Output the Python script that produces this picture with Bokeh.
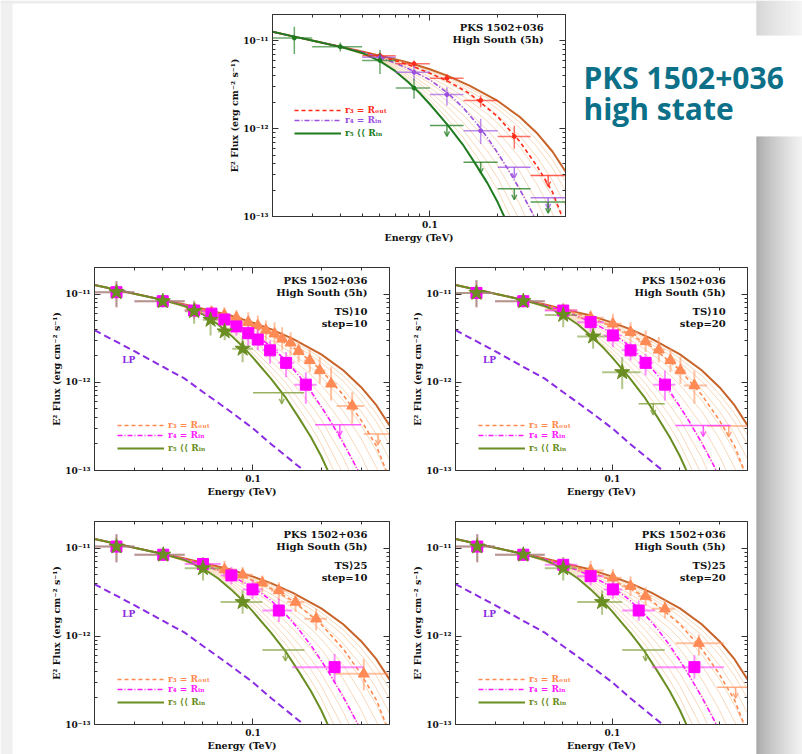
from bokeh.plotting import figure
from bokeh.models import (Range1d, LogAxis, FixedTicker, Label, Legend, LegendItem,
                          ColumnDataSource, Arrow, OpenHead)
from bokeh.embed import file_html
from bokeh.resources import INLINE

# ---------------------------------------------------------------- axes / ticks
E_MIN, E_MAX = 0.02, 0.4
F_MIN, F_MAX = 1e-13, 2e-11
x_major = [0.1]
x_major_labels = ["0.1"]
x_minor = [0.03, 0.04, 0.05, 0.06, 0.07, 0.08, 0.09, 0.2, 0.3]
y_major = [1e-13, 1e-12, 1e-11]
y_major_labels = ["10⁻¹³", "10⁻¹²", "10⁻¹¹"]
y_minor = [2e-13, 3e-13, 4e-13, 5e-13, 6e-13, 7e-13, 8e-13, 9e-13,
           2e-12, 3e-12, 4e-12, 5e-12, 6e-12, 7e-12, 8e-12, 9e-12]

# ---------------------------------------------------------------- model curves
brown_E = [0.02, 0.025, 0.03, 0.04, 0.05, 0.06, 0.07, 0.08, 0.1, 0.12, 0.15, 0.2, 0.25, 0.3, 0.35, 0.4]
brown_F = [1.27e-11, 1.12e-11, 1.01e-11, 8.6e-12, 7.6e-12, 6.8e-12, 6.2e-12, 5.7e-12, 4.75e-12,
           4.0e-12, 3.1e-12, 2.07e-12, 1.37e-12, 8.8e-13, 5.5e-13, 3.25e-13]
rout_E = [0.02, 0.025, 0.03, 0.04, 0.05, 0.06, 0.07, 0.08, 0.1, 0.12, 0.15, 0.2, 0.25, 0.3, 0.35, 0.4]
rout_F = [1.27e-11, 1.12e-11, 1.01e-11, 8.6e-12, 7.5e-12, 6.65e-12, 5.97e-12, 5.37e-12, 4.29e-12,
          3.48e-12, 2.52e-12, 1.37e-12, 7.2e-13, 3.7e-13, 1.9e-13, 8e-14]
rin_E = [0.02, 0.025, 0.03, 0.04, 0.05, 0.06, 0.07, 0.08, 0.1, 0.12, 0.14, 0.16, 0.18, 0.2,
         0.22, 0.25, 0.28, 0.3, 0.32]
rin_F = [1.27e-11, 1.12e-11, 1.01e-11, 8.6e-12, 7.45e-12, 6.45e-12, 5.6e-12, 4.85e-12, 3.6e-12,
         2.55e-12, 1.75e-12, 1.18e-12, 7.9e-13, 5.3e-13, 3.6e-13, 2.05e-13, 1.2e-13, 8.5e-14, 6e-14]
r5_E = [0.02, 0.025, 0.03, 0.04, 0.05, 0.06, 0.07, 0.08, 0.09, 0.1, 0.12, 0.14, 0.16, 0.18, 0.2, 0.22]
r5_F = [1.27e-11, 1.12e-11, 1.01e-11, 8.55e-12, 7.3e-12, 5.9e-12, 4.55e-12, 3.4e-12, 2.55e-12,
        1.9e-12, 1.1e-12, 6.6e-13, 3.9e-13, 2.4e-13, 1.45e-13, 8.5e-14]
lp_E = [0.02, 0.03, 0.04, 0.05, 0.06, 0.07, 0.08, 0.1, 0.12, 0.14, 0.17]
lp_F = [3.9e-12, 2.25e-12, 1.5e-12, 1.1e-12, 7.8e-13, 5.9e-13, 4.6e-13, 3.0e-13, 2.0e-13, 1.45e-13, 9.7e-14]
fan_E = [0.04, 0.06, 0.08, 0.1, 0.12, 0.14, 0.16, 0.18, 0.2, 0.25, 0.3, 0.35, 0.4]
fan_logF = [
    [-11.066, -11.170, -11.253, -11.339, -11.420, -11.500, -11.580, -11.651, -11.730, -11.925, -12.134, -12.354, -12.598],
    [-11.066, -11.173, -11.262, -11.355, -11.443, -11.529, -11.614, -11.692, -11.776, -11.987, -12.212, -12.448, -12.708],
    [-11.066, -11.177, -11.276, -11.379, -11.477, -11.571, -11.666, -11.752, -11.846, -12.080, -12.329, -12.589, -12.873],
    [-11.067, -11.182, -11.294, -11.411, -11.521, -11.628, -11.735, -11.833, -11.938, -12.204, -12.485, -12.777, -13.093],
    [-11.067, -11.187, -11.312, -11.442, -11.566, -11.684, -11.804, -11.914, -12.031, -12.328, -12.641, -12.965, -13.313],
    [-11.067, -11.193, -11.334, -11.482, -11.622, -11.755, -11.891, -12.015, -12.146, -12.483, -12.836, -13.200, -13.588],
    [-11.067, -11.200, -11.361, -11.530, -11.690, -11.840, -11.994, -12.136, -12.285, -12.669, -13.070, -13.482],
    [-11.068, -11.207, -11.388, -11.578, -11.757, -11.925, -12.098, -12.257, -12.423, -12.855, -13.304],
    [-11.068, -11.215, -11.415, -11.626, -11.824, -12.010, -12.202, -12.378, -12.562, -13.041],
    [-11.068, -11.222, -11.442, -11.673, -11.892, -12.095, -12.305, -12.499, -12.700, -13.227],
]

# ---------------------------------------------------------------- top panel data
top_g_E = [0.025, 0.040, 0.060, 0.085]
top_g_F = [1.08e-11, 8.6e-12, 5.98e-12, 2.9e-12]
top_g_Elo = [0.020, 0.030, 0.050, 0.0705]
top_g_Ehi = [0.030, 0.050, 0.0705, 0.100]
top_g_Flo = [7.1e-12, 7.6e-12, 4.2e-12, 2.2e-12]
top_g_Fhi = [1.45e-11, 9.6e-12, 7.9e-12, 3.7e-12]
top_g_ul_E = [0.119, 0.168, 0.237, 0.335]
top_g_ul_Elo = [0.100, 0.141, 0.200, 0.280]
top_g_ul_Ehi = [0.141, 0.200, 0.280, 0.400]
top_g_ul_F = [1.09e-12, 4.15e-13, 2.07e-13, 1.46e-13]

top_p_E = [0.060, 0.085, 0.119, 0.168]
top_p_F = [6.5e-12, 4.4e-12, 2.45e-12, 9.5e-13]
top_p_Elo = [0.050, 0.0705, 0.100, 0.141]
top_p_Ehi = [0.0705, 0.100, 0.141, 0.200]
top_p_Flo = [5.9e-12, 3.54e-12, 1.84e-12, 6.7e-13]
top_p_Fhi = [7.2e-12, 5.25e-12, 2.97e-12, 1.3e-12]
top_p_ul_E = [0.237, 0.335]
top_p_ul_Elo = [0.200, 0.280]
top_p_ul_Ehi = [0.280, 0.400]
top_p_ul_F = [3.65e-13, 1.63e-13]

top_r_E = [0.060, 0.085, 0.119, 0.168, 0.237]
top_r_F = [6.8e-12, 5.5e-12, 3.76e-12, 2.1e-12, 8.15e-13]
top_r_Elo = [0.050, 0.0705, 0.100, 0.141, 0.200]
top_r_Ehi = [0.0705, 0.100, 0.141, 0.200, 0.280]
top_r_Flo = [6.2e-12, 4.94e-12, 3.39e-12, 1.76e-12, 5.9e-13]
top_r_Fhi = [7.4e-12, 5.98e-12, 4.2e-12, 2.39e-12, 1.08e-12]
top_r_ul_E = [0.335]
top_r_ul_Elo = [0.280]
top_r_ul_Ehi = [0.400]
top_r_ul_F = [2.93e-13]

# ---------------------------------------------------------------- TS>10 step=10
ml_star_E = [0.025, 0.040, 0.055, 0.065, 0.075, 0.090]
ml_star_F = [1.05e-11, 8.3e-12, 6.4e-12, 5.1e-12, 3.77e-12, 2.4e-12]
ml_star_Elo = [0.020, 0.030, 0.050, 0.060, 0.070, 0.081]
ml_star_Ehi = [0.030, 0.050, 0.060, 0.070, 0.081, 0.100]
ml_star_Flo = [7.1e-12, 7.1e-12, 4.6e-12, 3.4e-12, 3.0e-12, 1.69e-12]
ml_star_Fhi = [1.4e-11, 9.6e-12, 8.4e-12, 7.1e-12, 4.6e-12, 3.3e-12]
ml_star_ul_E = [0.134]
ml_star_ul_Elo = [0.100]
ml_star_ul_Ehi = [0.168]
ml_star_ul_F = [7.6e-13]

ml_sq_E = [0.025, 0.040, 0.055, 0.0656, 0.0748, 0.0845, 0.0953, 0.105, 0.119, 0.140, 0.171]
ml_sq_F = [1.05e-11, 8.3e-12, 6.5e-12, 6.0e-12, 5.15e-12, 4.3e-12, 3.6e-12, 3.05e-12, 2.3e-12, 1.66e-12, 9.4e-13]
ml_sq_Elo = [0.020, 0.030, 0.050, 0.060, 0.070, 0.080, 0.090, 0.100, 0.110, 0.129, 0.152]
ml_sq_Ehi = [0.030, 0.050, 0.060, 0.070, 0.080, 0.090, 0.100, 0.110, 0.129, 0.152, 0.191]
ml_sq_Flo = [7.1e-12, 7.1e-12, 5.2e-12, 5.0e-12, 4.3e-12, 3.4e-12, 2.6e-12, 2.3e-12, 1.62e-12, 1.14e-12, 5.7e-13]
ml_sq_Fhi = [1.4e-11, 9.6e-12, 8.0e-12, 7.2e-12, 6.2e-12, 5.5e-12, 4.6e-12, 4.04e-12, 2.98e-12, 2.2e-12, 1.3e-12]
ml_sq_ul_E = [0.2415]
ml_sq_ul_Elo = [0.188]
ml_sq_ul_Ehi = [0.300]
ml_sq_ul_F = [3.3e-13]

ml_tri_E = [0.0558, 0.0656, 0.0748, 0.0845, 0.0953, 0.105, 0.114, 0.1245, 0.1345, 0.1465, 0.159,
            0.178, 0.197, 0.221, 0.274]
ml_tri_F = [6.6e-12, 6.2e-12, 5.8e-12, 5.4e-12, 4.8e-12, 4.4e-12, 3.9e-12, 3.55e-12, 3.1e-12, 2.8e-12,
            2.25e-12, 1.77e-12, 1.36e-12, 9.6e-13, 5.4e-13]
ml_tri_Elo = [0.050, 0.0605, 0.070, 0.0795, 0.0897, 0.100, 0.1094, 0.119, 0.1294, 0.1404, 0.1526,
              0.168, 0.187, 0.209, 0.234]
ml_tri_Ehi = [0.0605, 0.070, 0.0795, 0.0897, 0.100, 0.1094, 0.119, 0.1294, 0.1404, 0.1526, 0.168,
              0.187, 0.209, 0.234, 0.308]
ml_tri_Flo = [5.5e-12, 5.2e-12, 4.8e-12, 4.4e-12, 3.7e-12, 3.3e-12, 2.98e-12, 2.6e-12, 2.3e-12, 2.0e-12,
              1.69e-12, 1.3e-12, 9.6e-13, 6.2e-13, 3.4e-13]
ml_tri_Fhi = [7.8e-12, 7.4e-12, 7.1e-12, 6.6e-12, 6.2e-12, 5.7e-12, 5.0e-12, 4.8e-12, 4.2e-12, 3.7e-12,
              2.98e-12, 2.4e-12, 1.93e-12, 1.48e-12, 7.7e-13]
ml_tri_ul_E = [0.356]
ml_tri_ul_Elo = [0.308]
ml_tri_ul_Ehi = [0.400]
ml_tri_ul_F = [2.6e-13]

# ---------------------------------------------------------------- TS>10 step=20
mr_star_E = [0.0248, 0.0401, 0.0604, 0.0821, 0.1106]
mr_star_F = [1.03e-11, 8.3e-12, 5.8e-12, 3.3e-12, 1.3e-12]
mr_star_Elo = [0.020, 0.030, 0.050, 0.0697, 0.090]
mr_star_Ehi = [0.030, 0.050, 0.0697, 0.098, 0.1334]
mr_star_Flo = [7.1e-12, 7.1e-12, 4.2e-12, 2.4e-12, 8.4e-13]
mr_star_Fhi = [1.43e-11, 9.6e-12, 7.8e-12, 4.4e-12, 1.93e-12]
mr_star_ul_E = [0.152]
mr_star_ul_Elo = [0.131]
mr_star_ul_Ehi = [0.171]
mr_star_ul_F = [5.7e-13]

mr_sq_E = [0.0248, 0.0401, 0.0604, 0.080, 0.1005, 0.1205, 0.1406, 0.1715]
mr_sq_F = [1.03e-11, 8.3e-12, 6.5e-12, 4.8e-12, 3.4e-12, 2.3e-12, 1.66e-12, 9.4e-13]
mr_sq_Elo = [0.020, 0.030, 0.050, 0.0697, 0.0916, 0.110, 0.130, 0.152]
mr_sq_Ehi = [0.030, 0.050, 0.0697, 0.0916, 0.110, 0.130, 0.152, 0.191]
mr_sq_Flo = [7.1e-12, 7.1e-12, 5.6e-12, 3.7e-12, 2.5e-12, 1.77e-12, 1.19e-12, 6.2e-13]
mr_sq_Fhi = [1.43e-11, 9.6e-12, 7.5e-12, 5.97e-12, 4.4e-12, 2.85e-12, 2.1e-12, 1.36e-12]
mr_sq_ul_E = [0.254]
mr_sq_ul_Elo = [0.191]
mr_sq_ul_Ehi = [0.336]
mr_sq_ul_F = [3.24e-13]

mr_tri_E = [0.0604, 0.080, 0.1005, 0.1205, 0.1406, 0.161, 0.1815, 0.201, 0.232]
mr_tri_F = [6.6e-12, 5.4e-12, 4.6e-12, 3.7e-12, 2.9e-12, 2.33e-12, 1.77e-12, 1.36e-12, 9.2e-13]
mr_tri_Elo = [0.050, 0.0697, 0.0916, 0.110, 0.130, 0.1505, 0.171, 0.191, 0.208]
mr_tri_Ehi = [0.0697, 0.0916, 0.110, 0.130, 0.1505, 0.171, 0.191, 0.212, 0.2645]
mr_tri_Flo = [5.6e-12, 4.4e-12, 3.7e-12, 2.85e-12, 2.2e-12, 1.69e-12, 1.3e-12, 9.6e-13, 5.7e-13]
mr_tri_Fhi = [7.6e-12, 6.5e-12, 5.97e-12, 4.8e-12, 3.87e-12, 3.25e-12, 2.4e-12, 1.93e-12, 1.36e-12]
mr_tri_ul_E = [0.330]
mr_tri_ul_Elo = [0.2645]
mr_tri_ul_Ehi = [0.400]
mr_tri_ul_F = [3.2e-13]

# ---------------------------------------------------------------- TS>25 step=10
bl_star_E = [0.025, 0.0402, 0.0602, 0.090]
bl_star_F = [1.04e-11, 8.4e-12, 5.9e-12, 2.44e-12]
bl_star_Elo = [0.020, 0.030, 0.050, 0.072]
bl_star_Ehi = [0.030, 0.050, 0.072, 0.110]
bl_star_Flo = [6.9e-12, 7.2e-12, 4.3e-12, 1.8e-12]
bl_star_Fhi = [1.43e-11, 9.6e-12, 7.9e-12, 3.3e-12]
bl_star_ul_E = [0.139]
bl_star_ul_Elo = [0.110]
bl_star_ul_Ehi = [0.1686]
bl_star_ul_F = [7.0e-13]

bl_sq_E = [0.025, 0.0402, 0.0602, 0.0803, 0.0995, 0.130, 0.229]
bl_sq_F = [1.04e-11, 8.4e-12, 6.6e-12, 4.9e-12, 3.4e-12, 1.96e-12, 4.47e-13]
bl_sq_Elo = [0.020, 0.030, 0.050, 0.072, 0.090, 0.110, 0.149]
bl_sq_Ehi = [0.030, 0.050, 0.072, 0.090, 0.110, 0.149, 0.308]
bl_sq_Flo = [6.9e-12, 7.2e-12, 5.6e-12, 3.9e-12, 2.66e-12, 1.45e-12, 3.0e-13]
bl_sq_Fhi = [1.43e-11, 9.6e-12, 7.7e-12, 6.08e-12, 4.3e-12, 2.66e-12, 6.3e-13]

bl_tri_E = [0.0749, 0.090, 0.110, 0.130, 0.154, 0.190, 0.308]
bl_tri_F = [5.7e-12, 4.98e-12, 4.04e-12, 3.3e-12, 2.44e-12, 1.58e-12, 3.75e-13]
bl_tri_Elo = [0.067, 0.082, 0.100, 0.120, 0.141, 0.1686, 0.229]
bl_tri_Ehi = [0.085, 0.100, 0.120, 0.141, 0.1686, 0.212, 0.400]
bl_tri_Flo = [4.5e-12, 3.9e-12, 3.16e-12, 2.55e-12, 1.88e-12, 1.16e-12, 2.43e-13]
bl_tri_Fhi = [7.2e-12, 6.08e-12, 4.9e-12, 4.1e-12, 3.0e-12, 2.05e-12, 5.5e-13]

# ---------------------------------------------------------------- TS>25 step=20
br_star_E = [0.025, 0.0401, 0.0604, 0.090]
br_star_F = [1.04e-11, 8.4e-12, 5.9e-12, 2.44e-12]
br_star_Elo = [0.020, 0.030, 0.050, 0.0697]
br_star_Ehi = [0.030, 0.050, 0.0697, 0.1106]
br_star_Flo = [6.9e-12, 7.2e-12, 4.3e-12, 1.75e-12]
br_star_Fhi = [1.43e-11, 9.6e-12, 7.9e-12, 3.3e-12]
br_star_ul_E = [0.1405]
br_star_ul_Elo = [0.1106]
br_star_ul_Ehi = [0.171]
br_star_ul_F = [7.0e-13]

br_sq_E = [0.025, 0.0401, 0.0604, 0.080, 0.1005, 0.131, 0.232]
br_sq_F = [1.04e-11, 8.4e-12, 6.46e-12, 4.8e-12, 3.4e-12, 1.96e-12, 4.47e-13]
br_sq_Elo = [0.020, 0.030, 0.050, 0.0697, 0.0916, 0.1106, 0.150]
br_sq_Ehi = [0.030, 0.050, 0.0697, 0.0916, 0.1106, 0.155, 0.314]
br_sq_Flo = [6.9e-12, 7.2e-12, 5.5e-12, 3.8e-12, 2.66e-12, 1.5e-12, 3.3e-13]
br_sq_Fhi = [1.43e-11, 9.6e-12, 7.6e-12, 6.0e-12, 4.3e-12, 2.55e-12, 6.1e-13]

br_tri_E = [0.080, 0.1005, 0.1205, 0.1406, 0.1715, 0.2428]
br_tri_F = [5.57e-12, 4.6e-12, 3.7e-12, 2.85e-12, 2.05e-12, 8.36e-13]
br_tri_Elo = [0.0697, 0.0916, 0.110, 0.130, 0.150, 0.191]
br_tri_Ehi = [0.0916, 0.110, 0.130, 0.150, 0.190, 0.314]
br_tri_Flo = [4.2e-12, 3.6e-12, 2.85e-12, 2.2e-12, 1.6e-12, 6.0e-13]
br_tri_Fhi = [7.2e-12, 5.8e-12, 4.8e-12, 3.6e-12, 2.6e-12, 1.05e-12]
br_tri_ul_E = [0.354]
br_tri_ul_Elo = [0.293]
br_tri_ul_Ehi = [0.400]
br_tri_ul_F = [2.65e-13]

# ---------------------------------------------------------------- texts
panel_title = ["PKS 1502+036", "High South (5h)"]
ml_sel = ["TS⟩10", "step=10"]
mr_sel = ["TS⟩10", "step=20"]
bl_sel = ["TS⟩25", "step=10"]
br_sel = ["TS⟩25", "step=20"]
leg_labels = ["r₃ = Rₒᵤₜ", "r₄ = Rᵢₙ", "r₅ ⟨⟨ Rᵢₙ"]
slide_title = ["PKS 1502+036", "high state"]

# ---------------------------------------------------------------- styling
FONT = "DejaVu Serif"
BL, BR, BT, BB = 70, 12, 10, 30
TXT_E = 0.32
TXT_F = [1.41e-11, 1.04e-11, 6.3e-12, 4.67e-12]
UL_DROP = 0.75

TOP_COL = {"r3": "#ff2a1a", "r4": "#9b4fe0", "r5": "#1e7b1e"}
LOW_COL = {"r3": "#ff8a50", "r4": "#ff1aff", "r5": "#6b8e23"}
BROWN = "#c8642a"
FAN = "#f3c99e"
LP_COL = "#8a2be2"


def style_axis(ax, show_labels=True):
    ax.major_tick_in = 6
    ax.major_tick_out = 0
    ax.minor_tick_in = 3
    ax.minor_tick_out = 0
    ax.axis_line_color = "#333333"
    ax.major_tick_line_color = "#333333"
    ax.minor_tick_line_color = "#333333"
    ax.major_label_text_font = FONT
    ax.major_label_text_font_style = "bold"
    ax.major_label_text_color = "#111111"
    if show_labels:
        ax.major_label_text_font_size = "9px"
    else:
        ax.major_label_text_font_size = "1px"
        ax.major_label_text_alpha = 0
        ax.major_label_standoff = 0
    ax.axis_label_text_font = FONT
    ax.axis_label_text_font_style = "bold"
    ax.axis_label_text_font_size = "9.5px"
    ax.axis_label_text_color = "#111111"


def make_panel(L, T, W, H):
    p = figure(frame_width=W, frame_height=H, x_axis_type="log", y_axis_type="log",
               x_range=Range1d(E_MIN, E_MAX), y_range=Range1d(F_MIN, F_MAX),
               output_backend="svg", toolbar_location=None,
               min_border_left=BL, min_border_right=BR, min_border_top=BT, min_border_bottom=BB)
    p.styles = {"position": "absolute", "left": f"{L - BL}px", "top": f"{T - BT}px"}
    p.border_fill_color = None
    p.background_fill_color = "white"
    p.outline_line_color = "#333333"
    p.xgrid.visible = False
    p.ygrid.visible = False
    xt = FixedTicker(ticks=x_major, minor_ticks=x_minor)
    yt = FixedTicker(ticks=y_major, minor_ticks=y_minor)
    xa, ya = p.xaxis[0], p.yaxis[0]
    style_axis(xa)
    style_axis(ya)
    xa.ticker = xt
    ya.ticker = yt
    xa.major_label_overrides = dict(zip(x_major, x_major_labels))
    ya.major_label_overrides = dict(zip(y_major, y_major_labels))
    xa.axis_label = "Energy (TeV)"
    ya.axis_label = "E² Flux (erg cm⁻² s⁻¹)"
    xa.major_label_standoff = 4
    xa.axis_label_standoff = 1
    ya.major_label_standoff = 4
    ya.axis_label_standoff = 0
    top = LogAxis(ticker=xt)
    style_axis(top, False)
    right = LogAxis(ticker=yt)
    style_axis(right, False)
    p.add_layout(top, "above")
    p.add_layout(right, "right")
    return p


def draw_models(p, cols, with_lp):
    for row in fan_logF:
        p.line(fan_E[:len(row)], [10 ** v for v in row], line_color=FAN, line_width=1, line_alpha=0.7)
    p.line(brown_E, brown_F, line_color=BROWN, line_width=2)
    r3 = p.line(rout_E, rout_F, line_color=cols["r3"], line_width=1.6, line_dash="4 3")
    r4 = p.line(rin_E, rin_F, line_color=cols["r4"], line_width=1.6, line_dash="5 2 1 2")
    r5 = p.line(r5_E, r5_F, line_color=cols["r5"], line_width=2)
    if with_lp:
        p.line(lp_E, lp_F, line_color=LP_COL, line_width=2, line_dash="7 4")
    return [r3, r4, r5]


def add_legends(p, rends, cols, x, ys):
    for r, lab, key, y in zip(rends, leg_labels, ["r3", "r4", "r5"], ys):
        leg = Legend(items=[LegendItem(label=lab, renderers=[r])], location=(x, y),
                     background_fill_alpha=0, border_line_alpha=0, padding=1, margin=0,
                     spacing=0, glyph_width=47, glyph_height=10, label_height=10,
                     label_standoff=4, label_text_font=FONT, label_text_font_style="bold",
                     label_text_font_size="9px", label_text_color=cols[key])
        p.add_layout(leg)


def errs(p, E, F, Elo, Ehi, Flo, Fhi, color, alpha, width):
    src = ColumnDataSource(dict(E=E, F=F, Elo=Elo, Ehi=Ehi, Flo=Flo, Fhi=Fhi))
    p.segment("Elo", "F", "Ehi", "F", source=src, line_color=color, line_alpha=alpha, line_width=width)
    p.segment("E", "Flo", "E", "Fhi", source=src, line_color=color, line_alpha=alpha, line_width=width)
    return src


def uls(p, E, Elo, Ehi, F, color, alpha, width):
    src = ColumnDataSource(dict(E=E, Elo=Elo, Ehi=Ehi, F=F, F2=[f * UL_DROP for f in F]))
    p.segment("Elo", "F", "Ehi", "F", source=src, line_color=color, line_alpha=alpha, line_width=width)
    p.add_layout(Arrow(end=OpenHead(size=5, line_color=color, line_alpha=alpha, line_width=1.5),
                       x_start="E", y_start="F", x_end="E", y_end="F2", source=src,
                       line_color=color, line_alpha=alpha, line_width=1.5))


def add_texts(p, lines):
    for t, y in zip(lines, TXT_F):
        p.add_layout(Label(x=TXT_E, y=y, text=t, text_align="right", text_baseline="middle",
                           text_font=FONT, text_font_style="bold", text_font_size="10px",
                           text_color="#111111"))


# ---------------------------------------------------------------- top panel
pt = make_panel(272, 14, 293, 202)
rends = draw_models(pt, TOP_COL, False)
for (E, F, Elo, Ehi, Flo, Fhi, c) in [
        (top_r_E, top_r_F, top_r_Elo, top_r_Ehi, top_r_Flo, top_r_Fhi, TOP_COL["r3"]),
        (top_p_E, top_p_F, top_p_Elo, top_p_Ehi, top_p_Flo, top_p_Fhi, TOP_COL["r4"]),
        (top_g_E, top_g_F, top_g_Elo, top_g_Ehi, top_g_Flo, top_g_Fhi, TOP_COL["r5"])]:
    s = errs(pt, E, F, Elo, Ehi, Flo, Fhi, c, 0.65, 1.5)
    pt.scatter("E", "F", source=s, marker="circle", size=4, fill_color=c, line_color=c)
uls(pt, top_r_ul_E, top_r_ul_Elo, top_r_ul_Ehi, top_r_ul_F, TOP_COL["r3"], 0.75, 1.5)
uls(pt, top_p_ul_E, top_p_ul_Elo, top_p_ul_Ehi, top_p_ul_F, TOP_COL["r4"], 0.75, 1.5)
uls(pt, top_g_ul_E, top_g_ul_Elo, top_g_ul_Ehi, top_g_ul_F, TOP_COL["r5"], 0.75, 1.5)
add_legends(pt, rends, TOP_COL, 21, [100, 90, 77])
add_texts(pt, panel_title)


# ---------------------------------------------------------------- lower panels
def lower_panel(L, T, W, H, star, sq, tri, star_ul, sq_ul, tri_ul, sel):
    p = make_panel(L, T, W, H)
    rends = draw_models(p, LOW_COL, True)
    p.add_layout(Label(x=0.0265, y=1.8e-12, text="LP", text_align="left", text_baseline="middle",
                       text_font=FONT, text_font_style="bold", text_font_size="9px",
                       text_color=LP_COL))
    s_tri = errs(p, *tri, "#ff9a66", 0.6, 2)
    s_sq = errs(p, *sq, "#ff33ff", 0.55, 2)
    s_star = errs(p, *star, "#7f9f3a", 0.6, 2)
    if tri_ul:
        uls(p, *tri_ul, "#ff9a66", 0.8, 1.5)
    if sq_ul:
        uls(p, *sq_ul, "#ff33ff", 0.8, 1.5)
    if star_ul:
        uls(p, *star_ul, "#7f9f3a", 0.8, 1.5)
    p.scatter("E", "F", source=s_tri, marker="triangle", size=11, fill_color="#ff8a55",
              line_color="#ff8a55")
    p.scatter("E", "F", source=s_sq, marker="square", size=11, fill_color="#ff00ff",
              line_color="#ff00ff")
    p.scatter("E", "F", source=s_star, marker="star", size=16, fill_color="#6b8e23",
              line_color="#6b8e23")
    add_legends(p, rends, LOW_COL, 22, [39, 29, 16])
    add_texts(p, panel_title + sel)
    return p


pml = lower_panel(94, 267, 295, 203,
                  (ml_star_E, ml_star_F, ml_star_Elo, ml_star_Ehi, ml_star_Flo, ml_star_Fhi),
                  (ml_sq_E, ml_sq_F, ml_sq_Elo, ml_sq_Ehi, ml_sq_Flo, ml_sq_Fhi),
                  (ml_tri_E, ml_tri_F, ml_tri_Elo, ml_tri_Ehi, ml_tri_Flo, ml_tri_Fhi),
                  (ml_star_ul_E, ml_star_ul_Elo, ml_star_ul_Ehi, ml_star_ul_F),
                  (ml_sq_ul_E, ml_sq_ul_Elo, ml_sq_ul_Ehi, ml_sq_ul_F),
                  (ml_tri_ul_E, ml_tri_ul_Elo, ml_tri_ul_Ehi, ml_tri_ul_F), ml_sel)
pmr = lower_panel(455, 267, 292, 203,
                  (mr_star_E, mr_star_F, mr_star_Elo, mr_star_Ehi, mr_star_Flo, mr_star_Fhi),
                  (mr_sq_E, mr_sq_F, mr_sq_Elo, mr_sq_Ehi, mr_sq_Flo, mr_sq_Fhi),
                  (mr_tri_E, mr_tri_F, mr_tri_Elo, mr_tri_Ehi, mr_tri_Flo, mr_tri_Fhi),
                  (mr_star_ul_E, mr_star_ul_Elo, mr_star_ul_Ehi, mr_star_ul_F),
                  (mr_sq_ul_E, mr_sq_ul_Elo, mr_sq_ul_Ehi, mr_sq_ul_F),
                  (mr_tri_ul_E, mr_tri_ul_Elo, mr_tri_ul_Ehi, mr_tri_ul_F), mr_sel)
pbl = lower_panel(94, 521, 295, 203,
                  (bl_star_E, bl_star_F, bl_star_Elo, bl_star_Ehi, bl_star_Flo, bl_star_Fhi),
                  (bl_sq_E, bl_sq_F, bl_sq_Elo, bl_sq_Ehi, bl_sq_Flo, bl_sq_Fhi),
                  (bl_tri_E, bl_tri_F, bl_tri_Elo, bl_tri_Ehi, bl_tri_Flo, bl_tri_Fhi),
                  (bl_star_ul_E, bl_star_ul_Elo, bl_star_ul_Ehi, bl_star_ul_F),
                  None, None, bl_sel)
pbr = lower_panel(455, 521, 292, 203,
                  (br_star_E, br_star_F, br_star_Elo, br_star_Ehi, br_star_Flo, br_star_Fhi),
                  (br_sq_E, br_sq_F, br_sq_Elo, br_sq_Ehi, br_sq_Flo, br_sq_Fhi),
                  (br_tri_E, br_tri_F, br_tri_Elo, br_tri_Ehi, br_tri_Flo, br_tri_Fhi),
                  (br_star_ul_E, br_star_ul_Elo, br_star_ul_Ehi, br_star_ul_F),
                  None,
                  (br_tri_ul_E, br_tri_ul_Elo, br_tri_ul_Ehi, br_tri_ul_F), br_sel)

# ---------------------------------------------------------------- slide background
bg = figure(width=802, height=754, x_range=Range1d(0, 802), y_range=Range1d(754, 0),
            output_backend="svg", toolbar_location=None,
            min_border_left=0, min_border_right=0, min_border_top=0, min_border_bottom=0,
            x_axis_location=None, y_axis_location=None)
bg.styles = {"position": "absolute", "left": "0px", "top": "0px"}
bg.xgrid.visible = False
bg.ygrid.visible = False
bg.outline_line_color = None
bg.background_fill_color = "white"
bg.border_fill_color = "white"
bg.quad(left=[0], right=[12], top=[0], bottom=[754], fill_color="#f0f0f0", line_color=None)
bg.quad(left=[0], right=[756], top=[0], bottom=[3], fill_color="#ececec", line_color=None)
g_left, g_right, g_col_lo, g_col_hi = [], [], [], []
for i in range(46):
    t = (i / 45.0) ** 0.8
    v = int(140 + (240 - 140) * t)
    w = int(200 + (242 - 200) * t)
    g_left.append(756 + i)
    g_right.append(757 + i)
    g_col_lo.append("#%02x%02x%02x" % (v, v, v))
    g_col_hi.append("#%02x%02x%02x" % (w, w, w))
bg.quad(left=g_left, right=g_right, top=[136] * 46, bottom=[754] * 46, fill_color=g_col_lo,
        line_color=None)
bg.quad(left=g_left, right=g_right, top=[0] * 46, bottom=[35] * 46, fill_color=g_col_hi,
        line_color=None)
for txt, yb in zip(slide_title, [77, 108]):
    bg.add_layout(Label(x=583, y=yb, text=txt, text_font="Open Sans", text_font_style="bold",
                        text_font_size="30px", text_color="#0c7089", text_align="left",
                        text_baseline="alphabetic"))

roots = [bg, pt, pml, pmr, pbl, pbr]
open("out.html", "w").write(file_html(roots, INLINE))
